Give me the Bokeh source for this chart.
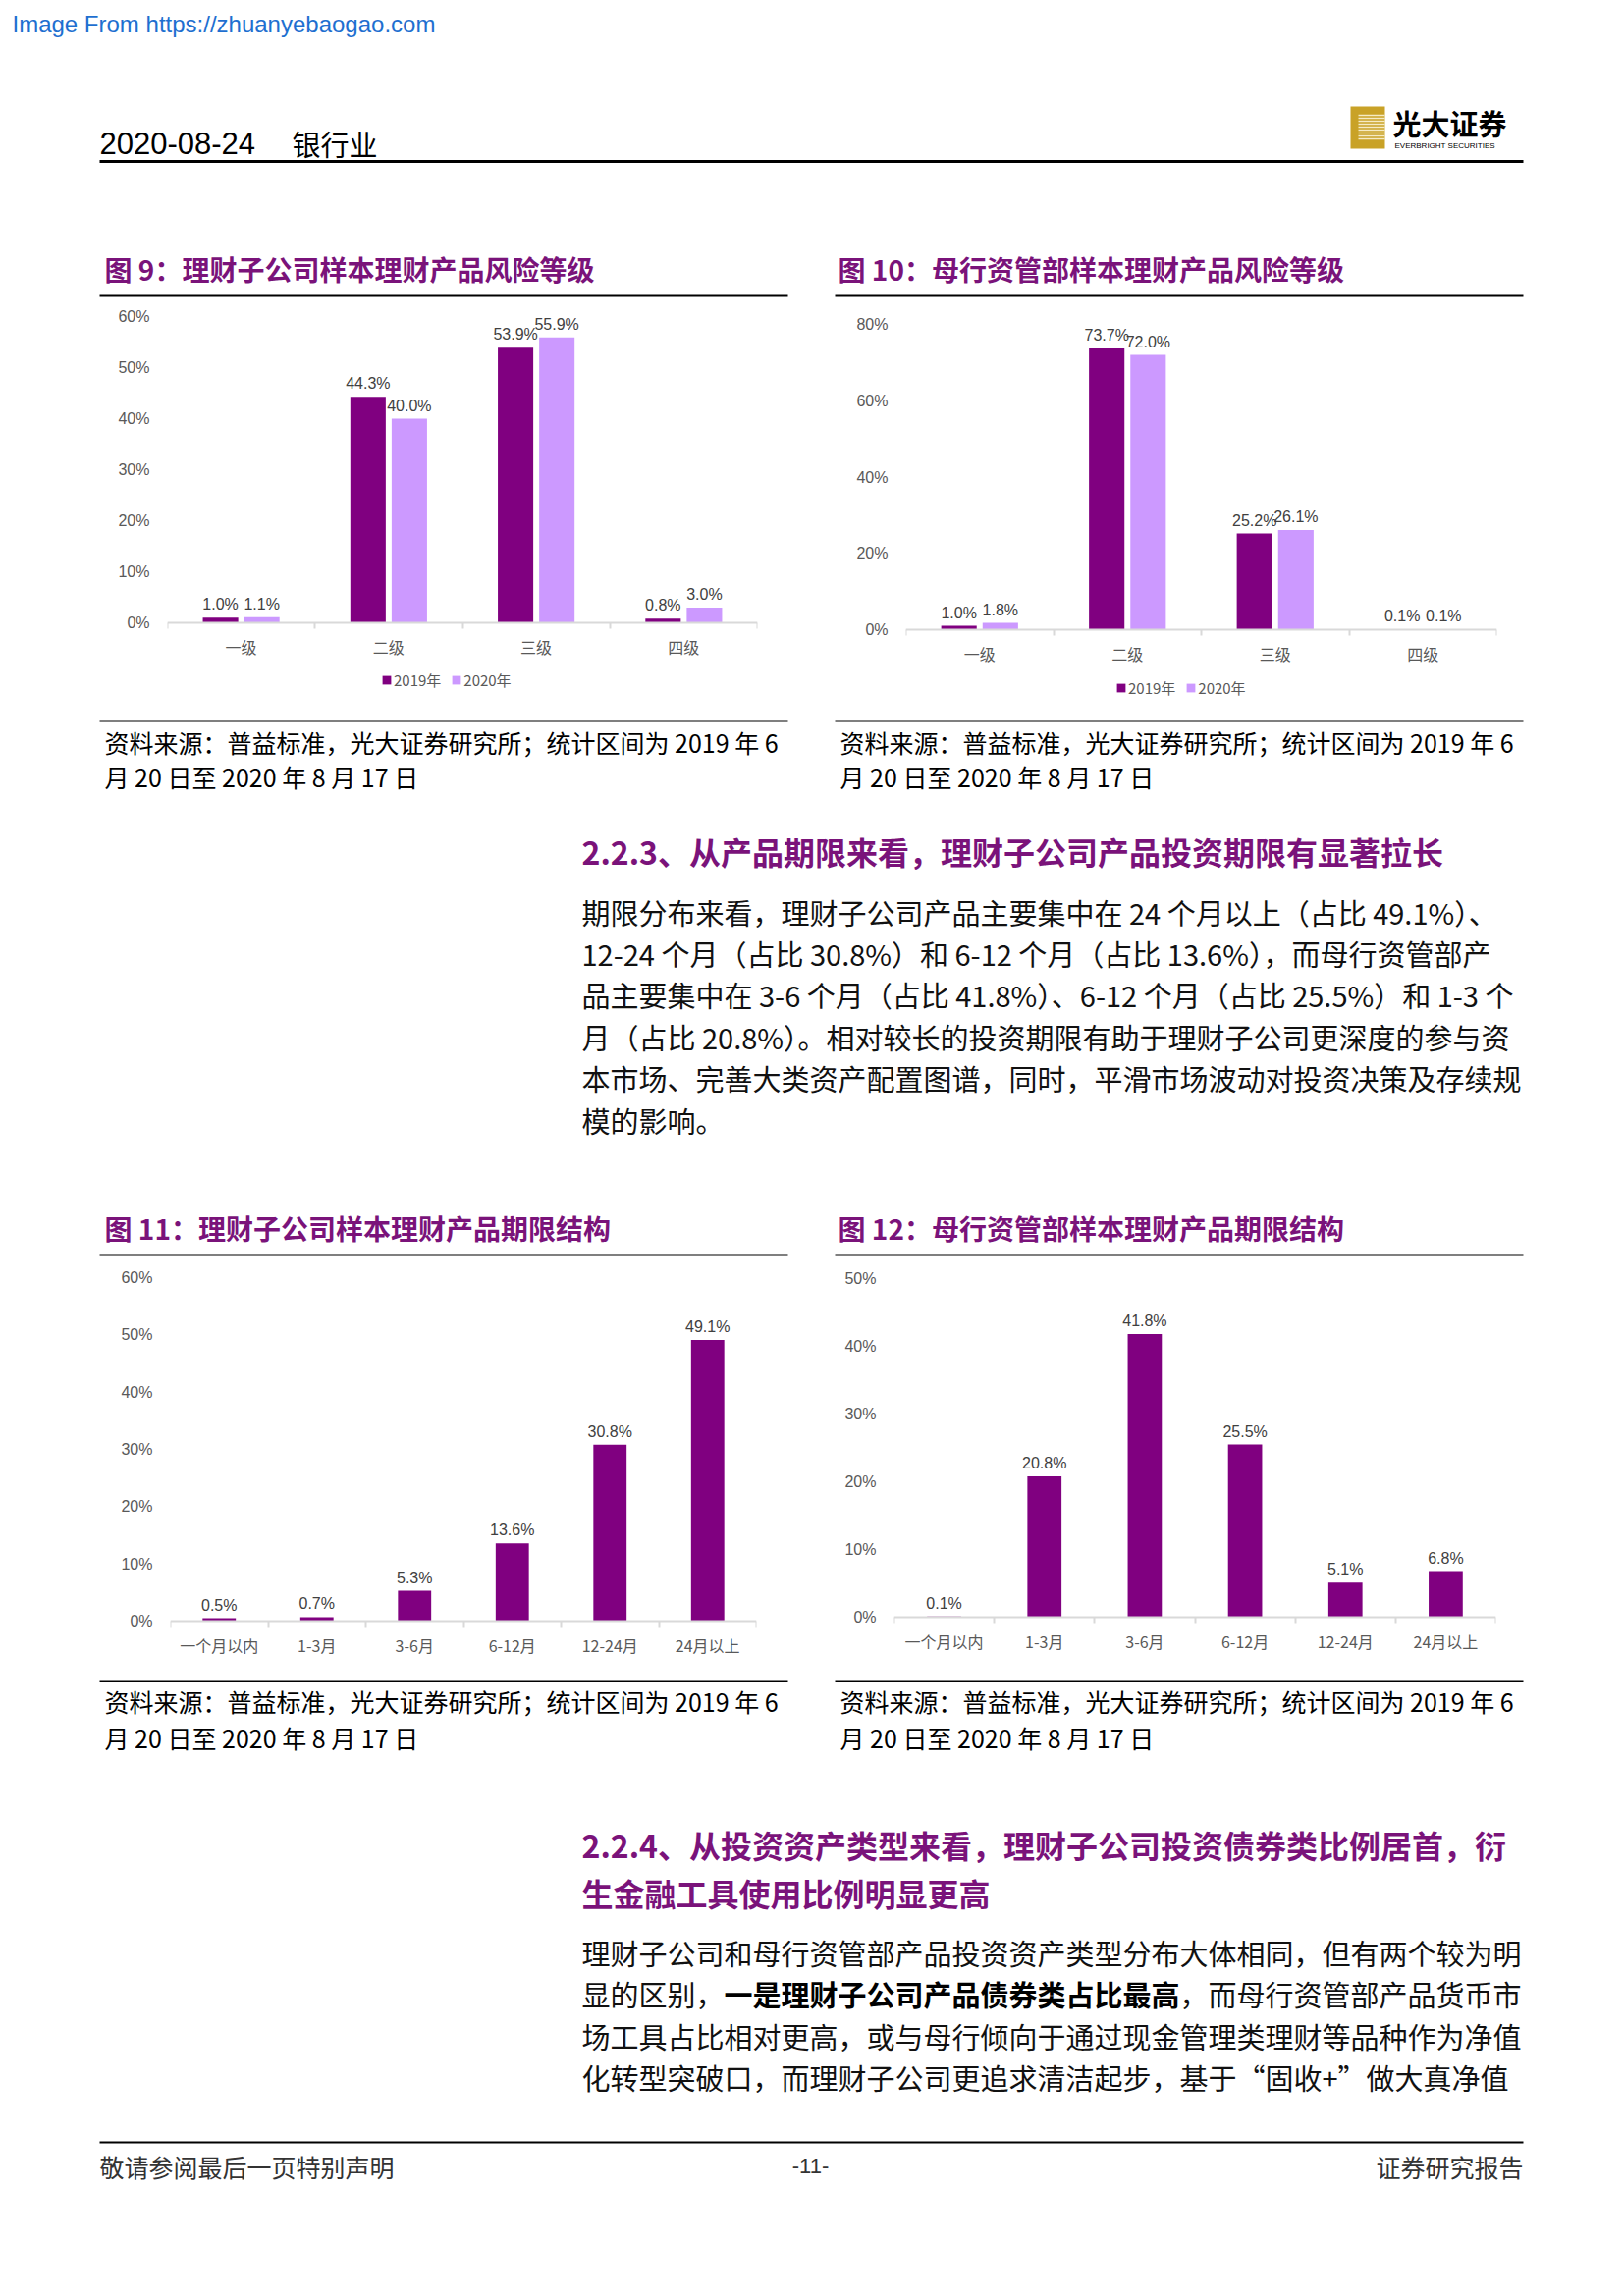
from bokeh.plotting import figure
from bokeh.models import (Range1d, LinearAxis, FixedTicker, NumeralTickFormatter,
                          CustomJSTickFormatter, ColumnDataSource, Legend, LegendItem, Spacer)
from bokeh.layouts import column, row
from bokeh.transform import dodge
from bokeh.core.properties import value
from bokeh.embed import file_html
from bokeh.resources import INLINE

# ---------------- data ----------------
risk_levels = ["一级", "二级", "三级", "四级"]
sub_risk_2019 = [1.0, 44.3, 53.9, 0.8]
sub_risk_2020 = [1.1, 40.0, 55.9, 3.0]
bank_risk_2019 = [1.0, 73.7, 25.2, 0.1]
bank_risk_2020 = [1.8, 72.0, 26.1, 0.1]

terms = ["一个月以内", "1-3月", "3-6月", "6-12月", "12-24月", "24月以上"]
sub_terms = [0.5, 0.7, 5.3, 13.6, 30.8, 49.1]
bank_terms = [0.1, 20.8, 41.8, 25.5, 5.1, 6.8]

series_names = ["2019年", "2020年"]

# ---------------- styles ----------------
CJK = "Noto Sans CJK SC"
LAT = "Liberation Sans"
PURPLE = "#800080"
LILAC = "#CC99FF"
HEAD = "#7A137A"
GRAY = "#595959"
AXIS = "#D9D9D9"
BODY = "#111111"


def bar_chart(cats, series, colors, names, ymax, ystep, width, height,
              mb_left, mb_right, top_px, zero_px, bar_w, offsets, legend_loc=None):
    """top_px / zero_px: pixel rows (from the figure's top) of ymax and of 0."""
    n = len(cats)
    edge = 2
    ppu = (zero_px - top_px) / ymax
    y_end = ymax + (top_px - edge) / ppu
    y_start = -((height - edge) - zero_px) / ppu
    p = figure(width=width, height=height, x_range=Range1d(0, n),
               y_range=Range1d(y_start, y_end), output_backend="svg",
               toolbar_location=None, x_axis_type=None, y_axis_type=None,
               min_border_left=mb_left, min_border_right=mb_right,
               min_border_top=edge, min_border_bottom=edge)
    p.outline_line_color = None
    p.background_fill_color = None
    p.border_fill_color = None

    centers = [i + 0.5 for i in range(n)]
    renderers = []
    for vals, col, off in zip(series, colors, offsets):
        src = ColumnDataSource(dict(
            x=centers, v=[v / 100 for v in vals], lbl=[f"{v:.1f}%" for v in vals]))
        r = p.vbar(x=dodge("x", off), top="v", bottom=0, width=bar_w, source=src,
                   fill_color=col, line_color=None)
        p.text(x=dodge("x", off), y="v", text="lbl", source=src,
               text_align="center", text_baseline="bottom", y_offset=-5,
               text_font=value(LAT), text_font_size="16px", text_color="#404040")
        renderers.append(r)

    nt = int(round(ymax / ystep))
    yax = LinearAxis(ticker=FixedTicker(ticks=[k * ystep for k in range(nt + 1)]),
                     formatter=NumeralTickFormatter(format="0%"),
                     axis_line_color=None, major_tick_line_color=None,
                     minor_tick_line_color=None, major_label_standoff=12,
                     major_label_text_color=GRAY, major_label_text_font_size="16px",
                     major_label_text_font=LAT)
    p.add_layout(yax, "left")

    xax = LinearAxis(ticker=FixedTicker(ticks=centers, minor_ticks=list(range(n + 1))),
                     formatter=CustomJSTickFormatter(args=dict(cats=cats),
                                                     code="return cats[Math.floor(tick)] || '';"),
                     fixed_location=0,
                     axis_line_color=AXIS, axis_line_width=2,
                     major_tick_line_color=None, major_tick_out=0, major_tick_in=0,
                     minor_tick_line_color=AXIS, minor_tick_line_width=2,
                     minor_tick_out=6, minor_tick_in=0, major_label_standoff=6,
                     major_label_text_color=GRAY, major_label_text_font_size="16px",
                     major_label_text_font=CJK)
    p.add_layout(xax, "below")

    if names is not None:
        leg = Legend(items=[LegendItem(label=nm, renderers=[r]) for nm, r in zip(names, renderers)],
                     orientation="horizontal", location=legend_loc,
                     border_line_color=None, background_fill_alpha=0,
                     label_text_font_size="15px", label_text_color=GRAY,
                     label_text_font=CJK, glyph_width=11, glyph_height=11,
                     label_standoff=2, spacing=10, margin=0, padding=4,
                     label_height=16)
        p.add_layout(leg, "center")
    return p


def band(y0, h):
    p = figure(width=1654, height=h, x_range=Range1d(0, 1654),
               y_range=Range1d(y0 + h, y0), output_backend="svg",
               toolbar_location=None, x_axis_type=None, y_axis_type=None,
               min_border=0)
    p.outline_line_color = None
    p.background_fill_color = None
    p.border_fill_color = None
    return p


def txt(p, x, y, s, size, color="#000000", bold=False, align="left", font=CJK):
    p.text(x=[x], y=[y], text=[s], text_font=value(font), text_font_size=f"{size}px",
           text_color=color, text_font_style="bold" if bold else "normal",
           text_align=align, text_baseline="middle")


def rule(p, x0, x1, y, w=2):
    p.segment(x0=[x0], x1=[x1], y0=[y], y1=[y], line_color="#000000", line_width=w)


SRC1 = "资料来源：普益标准，光大证券研究所；统计区间为 2019 年 6"
SRC2 = "月 20 日至 2020 年 8 月 17 日"
SRC_FS = 25
TITLE_FS = 28

# ---------------- band A: header ----------------
A = band(0, 305)
txt(A, 12, 24, "Image From https://zhuanyebaogao.com", 24, color="#1E6FD0", font=LAT)
txt(A, 101, 145, "2020-08-24", 31, font=LAT)
txt(A, 297, 145, "银行业", 29)
# logo
A.quad(left=[1375], right=[1410], top=[108], bottom=[151], fill_color="#C9A227", line_color=None)
for k in range(9):
    A.segment(x0=[1383], x1=[1410], y0=[117 + 3 * k], y1=[117 + 3 * k],
              line_color="#F6EBC4", line_width=1.5)
txt(A, 1418, 124, "光大证券", 29, bold=True)
txt(A, 1420, 148, "EVERBRIGHT SECURITIES", 8, font=LAT)
rule(A, 101, 1551, 164, 3)
txt(A, 106, 273, "图 9：理财子公司样本理财产品风险等级", TITLE_FS, color=HEAD, bold=True)
txt(A, 853, 273, "图 10：母行资管部样本理财产品风险等级", TITLE_FS, color=HEAD, bold=True)
rule(A, 101, 802, 301)
rule(A, 850, 1551, 301)

# ---------------- charts row 1 (page y 305..728) ----------------
f9 = bar_chart(risk_levels, [sub_risk_2019, sub_risk_2020], [PURPLE, LILAC], series_names,
               0.6, 0.1, 701, 423, 69, 31, 17, 329, 0.24, [-0.14, 0.14], legend_loc=(218, 23))
f10 = bar_chart(risk_levels, [bank_risk_2019, bank_risk_2020], [PURPLE, LILAC], series_names,
                0.8, 0.2, 701, 423, 72, 27, 25, 336, 0.24, [-0.14, 0.14], legend_loc=(214, 15))
row1 = row(Spacer(width=101, height=423), f9, Spacer(width=48, height=423), f10)

# ---------------- band B ----------------
B = band(728, 557)
rule(B, 101, 802, 734)
rule(B, 850, 1551, 734)
txt(B, 106, 755, SRC1, SRC_FS)
txt(B, 106, 790, SRC2, SRC_FS)
txt(B, 855, 755, SRC1, SRC_FS)
txt(B, 855, 790, SRC2, SRC_FS)
txt(B, 592, 866, "2.2.3、从产品期限来看，理财子公司产品投资期限有显著拉长", 32, color=HEAD, bold=True)
para1 = [
    "期限分布来看，理财子公司产品主要集中在 24 个月以上（占比 49.1%）、",
    "12-24 个月（占比 30.8%）和 6-12 个月（占比 13.6%），而母行资管部产",
    "品主要集中在 3-6 个月（占比 41.8%）、6-12 个月（占比 25.5%）和 1-3 个",
    "月（占比 20.8%）。相对较长的投资期限有助于理财子公司更深度的参与资",
    "本市场、完善大类资产配置图谱，同时，平滑市场波动对投资决策及存续规",
    "模的影响。",
]
for i, line in enumerate(para1):
    txt(B, 592, 928 + 42.4 * i, line, 29, color=BODY)
txt(B, 106, 1250, "图 11：理财子公司样本理财产品期限结构", TITLE_FS, color=HEAD, bold=True)
txt(B, 853, 1250, "图 12：母行资管部样本理财产品期限结构", TITLE_FS, color=HEAD, bold=True)
rule(B, 101, 802, 1278)
rule(B, 850, 1551, 1278)

# ---------------- charts row 2 (page y 1285..1706) ----------------
f11 = bar_chart(terms, [sub_terms], [PURPLE], None,
                0.6, 0.1, 701, 421, 72, 32, 16, 366, 0.34, [0.0])
f12 = bar_chart(terms, [bank_terms], [PURPLE], None,
                0.5, 0.1, 701, 421, 60, 28, 17, 362, 0.34, [0.0])
row2 = row(Spacer(width=101, height=421), f11, Spacer(width=48, height=421), f12)

# ---------------- band C ----------------
C = band(1706, 633)
rule(C, 101, 802, 1712)
rule(C, 850, 1551, 1712)
txt(C, 106, 1732, SRC1, SRC_FS)
txt(C, 106, 1769, SRC2, SRC_FS)
txt(C, 855, 1732, SRC1, SRC_FS)
txt(C, 855, 1769, SRC2, SRC_FS)
txt(C, 592, 1878, "2.2.4、从投资资产类型来看，理财子公司投资债券类比例居首，衍", 32, color=HEAD, bold=True)
txt(C, 592, 1927, "生金融工具使用比例明显更高", 32, color=HEAD, bold=True)
FS = 29
txt(C, 592, 1988, "理财子公司和母行资管部产品投资资产类型分布大体相同，但有两个较为明", FS, color=BODY)
seg_a = "显的区别，"
seg_b = "一是理财子公司产品债券类占比最高"
seg_c = "，而母行资管部产品货币市"
txt(C, 592, 2030, seg_a, FS, color=BODY)
txt(C, 592 + FS * len(seg_a), 2030, seg_b, FS, color="#000000", bold=True)
txt(C, 592 + FS * (len(seg_a) + len(seg_b)), 2030, seg_c, FS, color=BODY)
txt(C, 592, 2073, "场工具占比相对更高，或与母行倾向于通过现金管理类理财等品种作为净值", FS, color=BODY)
txt(C, 592, 2115, "化转型突破口，而理财子公司更追求清洁起步，基于“固收+”做大真净值", FS, color=BODY)
rule(C, 101, 1551, 2182, 2)
txt(C, 101, 2206, "敬请参阅最后一页特别声明", 25, color="#333333")
txt(C, 825, 2206, "-11-", 22, color="#333333", align="center", font=LAT)
txt(C, 1551, 2206, "证券研究报告", 25, color="#333333", align="right")

page = column(A, row1, B, row2, C)

open("out.html", "w").write(file_html(page, INLINE))
